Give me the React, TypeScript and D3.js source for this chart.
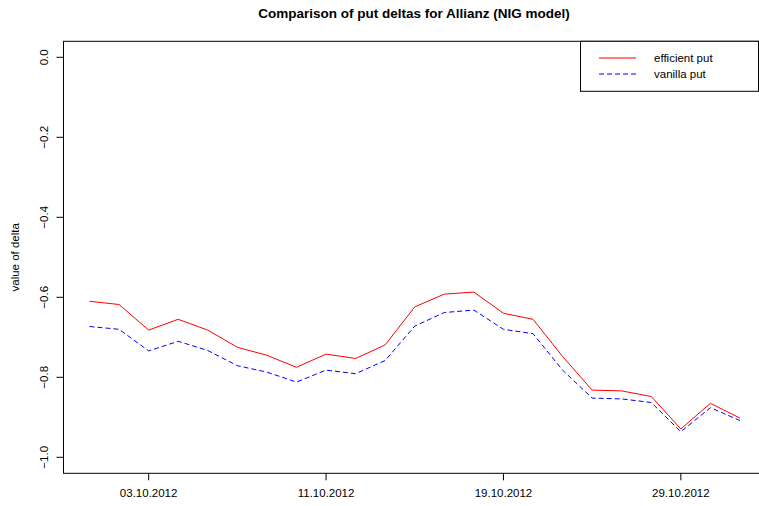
import React, { useEffect, useRef } from 'react';
import * as d3 from 'd3';

// trading days, October 2012
const dates = [
    '01.10.2012', '02.10.2012', '03.10.2012', '04.10.2012', '05.10.2012',
    '08.10.2012', '09.10.2012', '10.10.2012', '11.10.2012', '12.10.2012',
    '15.10.2012', '16.10.2012', '17.10.2012', '18.10.2012', '19.10.2012',
    '22.10.2012', '23.10.2012', '24.10.2012', '25.10.2012', '26.10.2012',
    '29.10.2012', '30.10.2012', '31.10.2012',
];

const efficientPut = [
    -0.610, -0.618, -0.682, -0.655, -0.682, -0.725, -0.745, -0.775, -0.742, -0.753,
    -0.719, -0.624, -0.592, -0.587, -0.640, -0.655, -0.748, -0.832, -0.834, -0.848,
    -0.929, -0.865, -0.902,
];

const vanillaPut = [
    -0.673, -0.680, -0.734, -0.710, -0.733, -0.771, -0.787, -0.812, -0.782, -0.791,
    -0.758, -0.672, -0.638, -0.632, -0.680, -0.691, -0.782, -0.852, -0.854, -0.863,
    -0.936, -0.876, -0.908,
];

const xTickLabels = ['03.10.2012', '11.10.2012', '19.10.2012', '29.10.2012'];
const yTicks = [0, -0.2, -0.4, -0.6, -0.8, -1.0];

const W = 759;
const H = 506;
const FONT = 'Liberation Sans, Arial, Helvetica, sans-serif';

export default function App() {
    const ref = useRef<SVGSVGElement>(null);

    useEffect(() => {
        const svg = d3.select(ref.current);
        svg.selectAll('*').remove();

        const n = dates.length;
        const pad = (n - 1) * 0.04;
        const x = d3.scaleLinear().domain([1 - pad, n + pad]).range([63.5, 766]);
        const y = d3.scaleLinear().domain([-1.04, 0.04]).range([473.3, 41.3]);

        // title
        svg.append('text')
            .attr('x', 414)
            .attr('y', 18)
            .attr('text-anchor', 'middle')
            .attr('font-family', FONT)
            .attr('font-weight', 'bold')
            .attr('font-size', 13.5)
            .text('Comparison of put deltas for Allianz (NIG model)');

        // plot box
        svg.append('rect')
            .attr('x', x.range()[0])
            .attr('y', y.range()[1])
            .attr('width', x.range()[1] - x.range()[0])
            .attr('height', y.range()[0] - y.range()[1])
            .attr('fill', 'none')
            .attr('stroke', 'black')
            .attr('stroke-width', 1);

        // y axis
        const yAxis = svg.append('g').attr('font-family', FONT).attr('font-size', 11.5);
        yTicks.forEach((t) => {
            yAxis.append('line')
                .attr('x1', x.range()[0]).attr('x2', x.range()[0] - 7)
                .attr('y1', y(t)).attr('y2', y(t))
                .attr('stroke', 'black');
            yAxis.append('text')
                .attr('transform', `translate(48,${y(t)}) rotate(-90)`)
                .attr('text-anchor', 'middle')
                .text(t === 0 ? '0.0' : '\u2212' + Math.abs(t).toFixed(1));
        });
        svg.append('text')
            .attr('transform', `translate(19,${(y.range()[0] + y.range()[1]) / 2}) rotate(-90)`)
            .attr('text-anchor', 'middle')
            .attr('font-family', FONT)
            .attr('font-size', 11.5)
            .text('value of delta');

        // x axis
        const xAxis = svg.append('g').attr('font-family', FONT).attr('font-size', 11.5);
        xTickLabels.forEach((lab) => {
            const i = dates.indexOf(lab) + 1;
            xAxis.append('line')
                .attr('x1', x(i)).attr('x2', x(i))
                .attr('y1', y.range()[0]).attr('y2', y.range()[0] + 7)
                .attr('stroke', 'black');
            xAxis.append('text')
                .attr('x', x(i))
                .attr('y', 497)
                .attr('text-anchor', 'middle')
                .text(lab);
        });

        // lines
        const line = d3.line<number>()
            .x((d, i) => x(i + 1))
            .y((d) => y(d));

        svg.append('path')
            .datum(efficientPut)
            .attr('fill', 'none')
            .attr('stroke', '#ff0000')
            .attr('stroke-width', 1)
            .attr('d', line);

        svg.append('path')
            .datum(vanillaPut)
            .attr('fill', 'none')
            .attr('stroke', '#0000ff')
            .attr('stroke-width', 1)
            .attr('stroke-dasharray', '5,3')
            .attr('d', line);

        // legend
        const lg = svg.append('g').attr('font-family', FONT).attr('font-size', 11.5);
        lg.append('rect')
            .attr('x', 580.5).attr('y', 41.3)
            .attr('width', 178).attr('height', 50)
            .attr('fill', 'white')
            .attr('stroke', 'black');
        const items = [
            { label: 'efficient put', color: '#ff0000', dash: null },
            { label: 'vanilla put', color: '#0000ff', dash: '5,3' },
        ];
        items.forEach((it, k) => {
            const yy = 58 + k * 16;
            lg.append('line')
                .attr('x1', 599).attr('x2', 636)
                .attr('y1', yy).attr('y2', yy)
                .attr('stroke', it.color)
                .attr('stroke-dasharray', it.dash);
            lg.append('text')
                .attr('x', 654)
                .attr('y', yy + 4)
                .text(it.label);
        });
    }, []);

    return (
        <svg
            ref={ref}
            width={W}
            height={H}
            style={{ position: 'absolute', left: 0, top: 0, background: 'white' }}
        />
    );
}
